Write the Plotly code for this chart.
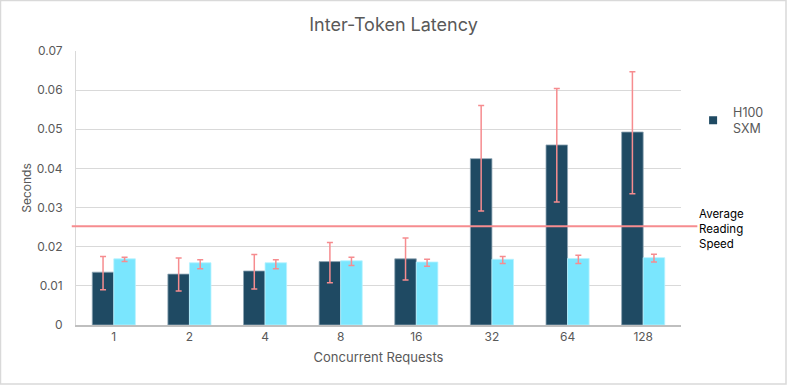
import plotly.graph_objects as go

categories = ["1", "2", "4", "8", "16", "32", "64", "128"]
h100_mean = [0.0135, 0.0130, 0.0138, 0.0162, 0.0169, 0.0425, 0.0460, 0.0493]
h100_hi = [0.0175, 0.0171, 0.0180, 0.0211, 0.0222, 0.0561, 0.0604, 0.0647]
h100_lo = [0.0090, 0.0087, 0.0092, 0.0108, 0.0115, 0.0291, 0.0314, 0.0335]
other_mean = [0.0169, 0.0159, 0.0159, 0.0164, 0.0161, 0.0168, 0.0170, 0.0172]
other_hi = [0.0173, 0.0167, 0.0167, 0.0173, 0.0168, 0.0175, 0.0178, 0.0181]
other_lo = [0.0162, 0.0144, 0.0144, 0.0152, 0.0150, 0.0157, 0.0157, 0.0161]
reading_speed = 0.0252
y_ticks = [0, 0.01, 0.02, 0.03, 0.04, 0.05, 0.06, 0.07]

err_color = "#F68C8F"
dark = "#1F4A63"
FONT = "Inter"

def err(mean, hi, lo):
    return dict(type="data", symmetric=False,
                array=[h - m for h, m in zip(hi, mean)],
                arrayminus=[m - l for m, l in zip(mean, lo)],
                color=err_color, thickness=1.5, width=3)

fig = go.Figure()
fig.add_trace(go.Bar(x=categories, y=h100_mean, name="H100<br>SXM", showlegend=False,
                     legendgroup="h100",
                     marker=dict(color=dark, line=dict(color="#8FA6B5", width=0.8)),
                     error_y=err(h100_mean, h100_hi, h100_lo)))
fig.add_trace(go.Bar(x=categories, y=other_mean, name="Other", showlegend=False,
                     marker=dict(color="#7AE6FE", line=dict(color="#B8F2FF", width=0.8)),
                     error_y=err(other_mean, other_hi, other_lo)))
# legend entry (small square, like the original)
fig.add_trace(go.Scatter(x=[None], y=[None], mode="markers", name="H100<br>SXM",
                         legendgroup="h100",
                         marker=dict(symbol="square", size=8, color=dark)))

fig.add_shape(type="line", xref="paper", yref="y", x0=-0.007, x1=1.027,
              y0=reading_speed, y1=reading_speed,
              line=dict(color=err_color, width=2))
fig.add_shape(type="rect", xref="paper", yref="paper",
              x0=-75.5/605, x1=(786 - 76)/605, y0=-59/274, y1=(325 - 0.5)/274,
              line=dict(color="#D9D9D9", width=1.5), layer="below")
fig.add_annotation(xref="paper", yref="y", x=1.026, y=reading_speed, yshift=-3,
                   text="Average<br>Reading<br>Speed", showarrow=False,
                   xanchor="left", yanchor="middle", align="left",
                   font=dict(family=FONT, size=11.5, color="#000000"))

fig.update_layout(
    width=787, height=386, autosize=False,
    margin=dict(l=76, r=106, t=51, b=61),
    paper_bgcolor="white", plot_bgcolor="white",
    font=dict(family=FONT, size=12, color="#595959"),
    title=dict(text="Inter-Token Latency", x=0.5, xanchor="center", y=0.937, yanchor="middle",
               font=dict(family=FONT, size=18, color="#595959")),
    barmode="group", bargap=0.43, bargroupgap=0,
    legend=dict(x=1.02, y=0.83, xanchor="left", yanchor="top",
                font=dict(family=FONT, size=12.5, color="#595959"),
                itemwidth=30, bgcolor="rgba(0,0,0,0)"),
    xaxis=dict(title=dict(text="Concurrent Requests", font=dict(size=13, color="#595959"), standoff=10),
               showline=True, linecolor="#BFBFBF", linewidth=1.5, ticks="",
               showgrid=False),
    yaxis=dict(title=dict(text="Seconds", font=dict(size=12, color="#595959"), standoff=2),
               range=[0, 0.07], tickvals=y_ticks,
               ticktext=["0" if v == 0 else f"{v:.2f}" for v in y_ticks],
               showgrid=True, gridcolor="#D9D9D9", gridwidth=1.2,
               showline=True, linecolor="#D9D9D9", linewidth=1,
               zeroline=False, ticks="", ticklabelstandoff=10),
)

fig.write_html(
    "out.html",
    config={"responsive": False, "displayModeBar": False},
    post_script=("document.documentElement.style.overflow='hidden';"
                 "document.body.style.overflow='hidden';"
                 "document.body.style.margin='0';document.body.style.padding='0';"),
)
